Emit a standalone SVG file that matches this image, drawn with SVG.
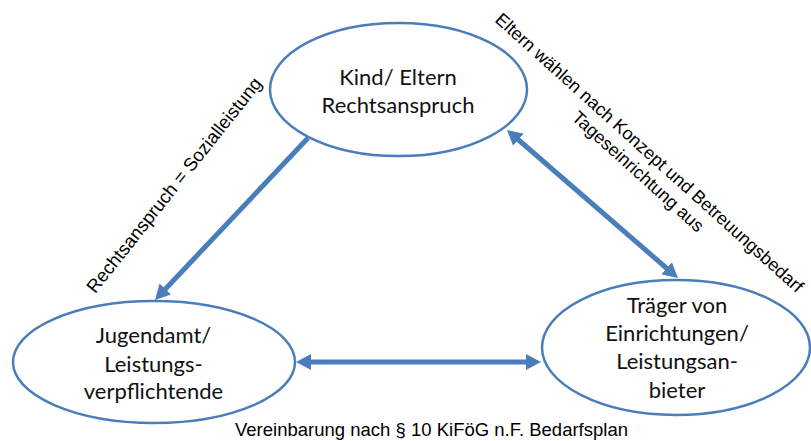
<svg xmlns="http://www.w3.org/2000/svg" width="811" height="441" viewBox="0 0 811 441">
  <defs>
    <marker id="ah" markerUnits="userSpaceOnUse" markerWidth="16" markerHeight="16" refX="5" refY="8" orient="auto-start-reverse">
      <path d="M0,0 L15,8 L0,16 z" fill="#4a7ebb"/>
    </marker>
    <style>
      .node ellipse { fill: #ffffff; stroke: #4a7ebb; stroke-width: 2.5; }
      .node text { font-family: Lato, "Open Sans", sans-serif; font-size: 22px; fill: #111111; text-anchor: middle; }
      .conn line { stroke: #4a7ebb; stroke-width: 5; fill: none; }
      .lbl { font-family: "Liberation Sans", Arial, sans-serif; font-size: 18.5px; fill: #000000; }
    </style>
  </defs>
  <rect width="811" height="441" fill="#ffffff"/>

  <g id="connectors" class="conn">
    <line x1="308" y1="138" x2="161.9" y2="292.7" marker-end="url(#ah)"/>
    <line x1="514.6" y1="136.5" x2="670.4" y2="271.5" marker-start="url(#ah)" marker-end="url(#ah)"/>
    <line x1="306" y1="362" x2="531" y2="362" marker-start="url(#ah)" marker-end="url(#ah)"/>
  </g>

  <g id="node-kind" class="node">
    <ellipse cx="398.5" cy="89.5" rx="128.5" ry="66.5"/>
    <text x="398" y="84.5">Kind/ Eltern</text>
    <text x="398" y="112.5">Rechtsanspruch</text>
  </g>

  <g id="node-jugendamt" class="node">
    <ellipse cx="154" cy="362" rx="141" ry="61"/>
    <text x="153.5" y="343.3">Jugendamt/</text>
    <text x="153.5" y="371.7">Leistungs-</text>
    <text x="153.5" y="399.3">verpflichtende</text>
  </g>

  <g id="node-traeger" class="node">
    <ellipse cx="676" cy="347.5" rx="134" ry="67.5"/>
    <text x="677" y="312.7">Träger von</text>
    <text x="677" y="341">Einrichtungen/</text>
    <text x="677" y="369.3">Leistungsan-</text>
    <text x="677" y="398.3">bieter</text>
  </g>

  <g id="labels">
    <text class="lbl" text-anchor="middle" transform="translate(179,189) rotate(-51.5)">Rechtsanspruch = Sozialleistung</text>
    <text class="lbl" text-anchor="start" transform="translate(494,21) rotate(42)" style="font-size:18px">Eltern wählen nach Konzept und Betreuungsbedarf</text>
    <text class="lbl" text-anchor="middle" transform="translate(634,176) rotate(42)" style="font-size:18px">Tageseinrichtung aus</text>
    <text class="lbl" x="235" y="436" style="font-size:19px" textLength="393" lengthAdjust="spacingAndGlyphs">Vereinbarung nach § 10 KiFöG n.F. Bedarfsplan</text>
  </g>
</svg>
